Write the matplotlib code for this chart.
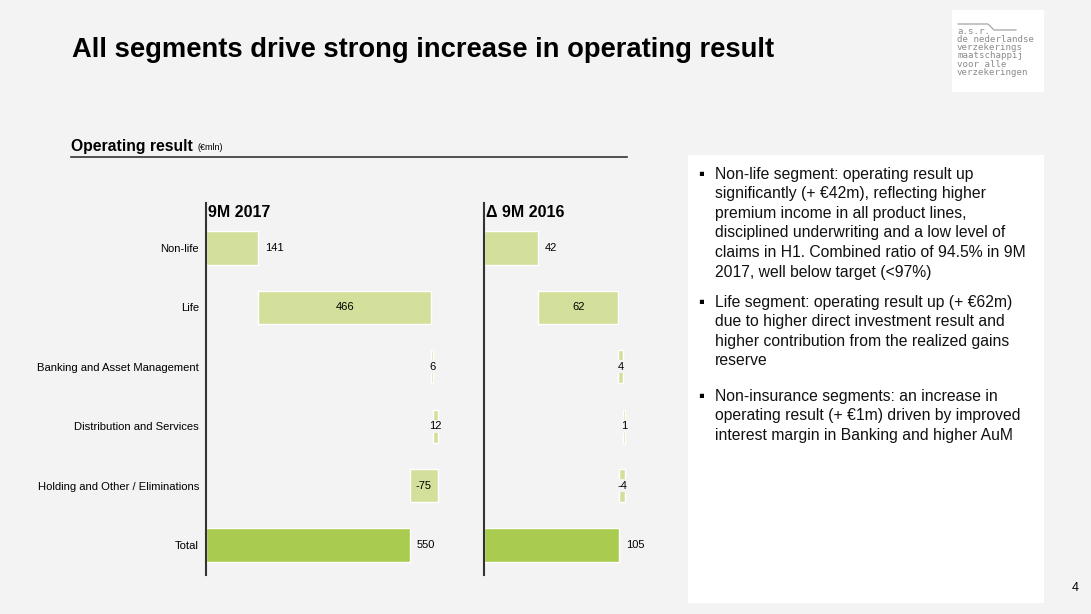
import matplotlib.pyplot as plt
from matplotlib.patches import Rectangle
from matplotlib.lines import Line2D

plt.rcParams['font.family'] = ['Liberation Sans', 'DejaVu Sans']

# data
segments = ["Non-life", "Life", "Banking and Asset Management",
            "Distribution and Services", "Holding and Other / Eliminations", "Total"]
result_2017 = [141, 466, 6, 12, -75, 550]
delta_2016 = [42, 62, 4, 1, -4, 105]
label_pos_2017 = ["out", "in", "in", "in", "in", "out"]
label_pos_delta = ["out", "in", "in", "in", "in", "out"]

bullets = [
    ["Non-life segment: operating result up",
     "significantly (+ \u20ac42m), reflecting higher",
     "premium income in all product lines,",
     "disciplined underwriting and a low level of",
     "claims in H1. Combined ratio of 94.5% in 9M",
     "2017, well below target (<97%)"],
    ["Life segment: operating result up (+ \u20ac62m)",
     "due to higher direct investment result and",
     "higher contribution from the realized gains",
     "reserve"],
    ["Non-insurance segments: an increase in",
     "operating result (+ \u20ac1m) driven by improved",
     "interest margin in Banking and higher AuM"],
]

W, H = 1091, 614
BG = "#f3f3f3"
LIGHT = "#d3e09c"
DARK = "#a9cc50"

fig = plt.figure(figsize=(W / 100, H / 100), dpi=100)
fig.patch.set_facecolor(BG)


def fx(px):
    return px / W


def fy(py):
    return 1 - py / H


# white boxes (text panel and logo)
fig.patches.append(Rectangle((fx(688), fy(603)), fx(1044 - 688), (603 - 155) / H,
                             transform=fig.transFigure, facecolor="white",
                             edgecolor="none", zorder=0))
fig.patches.append(Rectangle((fx(952), fy(92)), fx(1044 - 952), (92 - 10) / H,
                             transform=fig.transFigure, facecolor="white",
                             edgecolor="none", zorder=0))

# title
fig.text(fx(72), fy(50), "All segments drive strong increase in operating result",
         fontsize=19.7, fontweight="bold", va="center", ha="left")

# logo
fig.lines.append(Line2D([fx(958), fx(988), fx(994), fx(1016)],
                        [fy(24), fy(24), fy(30), fy(30)],
                        transform=fig.transFigure, color="#9a9a9a", lw=0.8))
logo_lines = ["a.s.r.", "de nederlandse", "verzekerings",
              "maatschappij", "voor alle", "verzekeringen"]
for i, s in enumerate(logo_lines):
    fig.text(fx(957), fy(31 + i * 8.3), s, fontsize=6.6, color="#8c8c8c",
             family="DejaVu Sans Mono", va="center", ha="left")

# subtitle
fig.text(fx(71), fy(146), "Operating result", fontsize=11.3, fontweight="bold",
         va="center", ha="left")
fig.text(fx(197), fy(147), "(\u20acmln)", fontsize=6.5, va="center", ha="left")
fig.lines.append(Line2D([fx(71), fx(627)], [fy(157), fy(157)],
                        transform=fig.transFigure, color="#333333", lw=1.2))


def waterfall(ax, values, label_pos, px_per_unit, width_px, header):
    n = len(values)
    ax.set_xlim(0, width_px / px_per_unit)
    ax.set_ylim(n - 1 + 0.505, -0.758)
    ax.patch.set_alpha(0)
    for s in ["top", "right", "bottom"]:
        ax.spines[s].set_visible(False)
    ax.spines["left"].set_color("#333333")
    ax.spines["left"].set_linewidth(1.5)
    ax.set_xticks([])
    running = 0
    for i, v in enumerate(values):
        if i == n - 1:
            left, w, col = 0, v, DARK
        else:
            left = running if v >= 0 else running + v
            w = abs(v)
            running += v
            col = LIGHT
        ax.barh(i, w, left=left, height=0.56, color=col, edgecolor="white",
                linewidth=1, zorder=2)
        if label_pos[i] == "out":
            ax.text(left + w + 7 / px_per_unit, i, str(v), fontsize=8,
                    va="center", ha="left", zorder=3)
        else:
            ax.text(left + w / 2, i, str(v), fontsize=8, va="center",
                    ha="center", zorder=3,
                    bbox=dict(boxstyle="square,pad=0.15", fc=BG, ec="none")
                    if w * px_per_unit < 15 else None)
    ax.text(2 / px_per_unit, -0.6, header, fontsize=11.5, fontweight="bold",
            va="center", ha="left")


ax_top, ax_bot = 203, 575
ax1 = fig.add_axes([fx(206), fy(ax_bot), fx(460 - 206), (ax_bot - ax_top) / H])
waterfall(ax1, result_2017, label_pos_2017, 0.371, 460 - 206, "9M 2017")
ax1.set_yticks(range(len(segments)))
ax1.set_yticklabels(segments, fontsize=8.1)
ax1.tick_params(axis="y", length=0, pad=5)

ax2 = fig.add_axes([fx(484), fy(ax_bot), fx(680 - 484), (ax_bot - ax_top) / H])
waterfall(ax2, delta_2016, label_pos_delta, 1.29, 680 - 484, "\u0394 9M 2016")
ax2.set_yticks([])

# bullet text
starts = [174, 302, 396]
for start, lines in zip(starts, bullets):
    fig.text(fx(698), fy(start), "\u25aa", fontsize=12, va="center", ha="left")
    for j, s in enumerate(lines):
        fig.text(fx(715), fy(start + j * 19.6), s, fontsize=11.3,
                 va="center", ha="left", color="#111111")

# page number
fig.text(fx(1079), fy(588), "4", fontsize=9, va="center", ha="right")

fig.savefig("out.png", dpi=100, facecolor=fig.get_facecolor())
